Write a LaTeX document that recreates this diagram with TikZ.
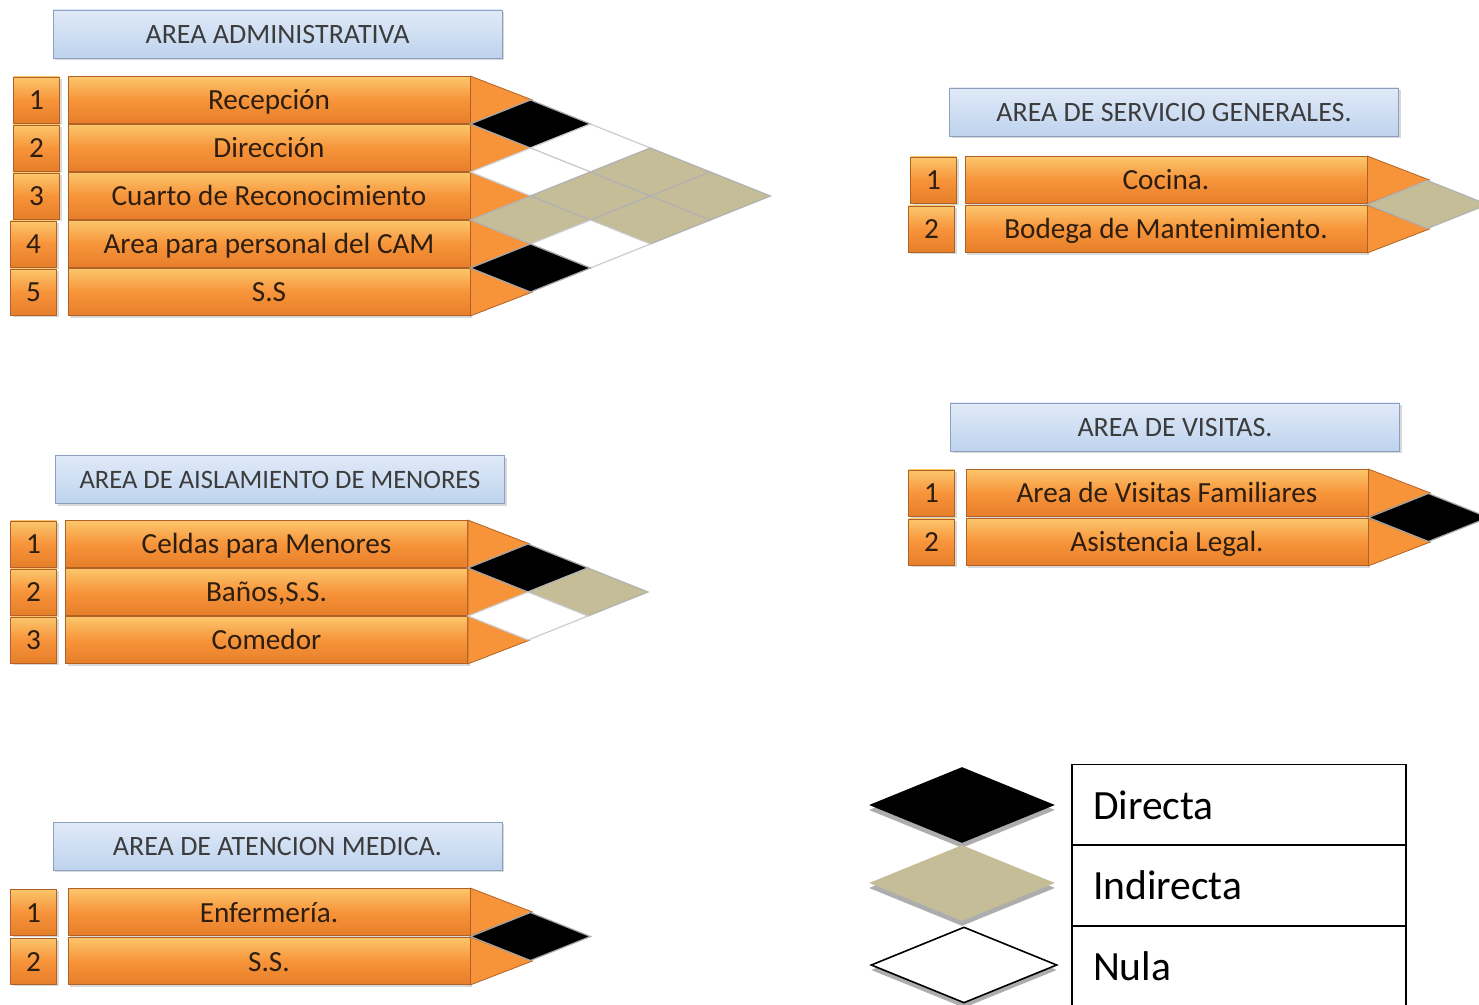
\documentclass[tikz,border=0pt]{standalone}
\usepackage{fontspec}
\setmainfont{Carlito}
\usepackage{xcolor}
\usepackage{tikz}
\usetikzlibrary{calc,shadows,shapes.geometric}

\definecolor{barorange}{RGB}{247,148,58}
\definecolor{barlight}{RGB}{252,198,108}
\definecolor{bardeep}{RGB}{230,126,42}
\definecolor{baredge}{RGB}{176,98,38}
\definecolor{headblue}{RGB}{190,211,238}
\definecolor{headlight}{RGB}{224,234,248}
\definecolor{headedge}{RGB}{140,160,190}
\definecolor{tanrel}{RGB}{196,189,151}
\definecolor{inktext}{RGB}{45,30,15}
\definecolor{headtext}{RGB}{60,60,60}

% diamond between row #2 and row #3 of group #1
\newcommand{\relcell}[4]{%
  \pgfmathsetmacro{\relx}{30*(#3-#2)}
  \draw[#4] ($(#1#2.east)!0.5!(#1#3.east)+(\relx pt-30pt,0)$) -- ++(30pt,12pt) -- ++(30pt,-12pt) -- ++(-30pt,-12pt) -- cycle;
}

\begin{document}
\begin{tikzpicture}[x=0.5pt, y=-0.5pt,
  bar/.style={draw=baredge, top color=barlight, bottom color=bardeep, middle color=barorange,
    minimum width=201pt, minimum height=23.5pt, inner sep=0pt, text=inktext,
    text height=11.5pt, text depth=1.5pt,
    font=\fontsize{14.6}{16}\selectfont, drop shadow={opacity=0.3, shadow xshift=1pt, shadow yshift=-1.2pt}},
  numbox/.style={bar, minimum width=23pt, minimum height=23pt},
  barpoint/.style={draw=baredge, fill=barorange},
  areahead/.style={draw=headedge, top color=headlight, bottom color=headblue,
    minimum width=224.5pt, minimum height=24pt, inner sep=0pt, text=headtext,
    text height=11pt, text depth=1.5pt,
    font=\fontsize{14}{16}\selectfont, drop shadow={opacity=0.3, shadow xshift=1pt, shadow yshift=-1.2pt}},
  dirrel/.style={fill=black, draw=gray!70, line width=0.6pt},
  indrel/.style={fill=tanrel, draw=gray!60, line width=0.6pt},
  nulrel/.style={fill=white, draw=gray!40, line width=0.6pt},
  legdia/.style={diamond, minimum width=93pt, minimum height=38pt, inner sep=0pt,
    drop shadow={shadow xshift=0pt, shadow yshift=-2.5pt, fill=gray!80, opacity=0.8}},
  legcell/.style={draw=black, line width=0.8pt, minimum height=40.5pt, text width=146pt,
    inner xsep=10.5pt, align=left, font=\fontsize{20.8}{24}\selectfont}]
  \useasboundingbox (0,0) rectangle (1479,1005);

  % Area administrativa
  \node[areahead] (admhead) at (277.5, 34) {AREA ADMINISTRATIVA};
  \node[bar] (adm1) at (269, 100) {Recepción};
  \node[bar] (adm2) at (269, 148) {Dirección};
  \node[bar] (adm3) at (269, 196) {Cuarto de Reconocimiento};
  \node[bar] (adm4) at (269, 244) {Area para personal del CAM};
  \node[bar] (adm5) at (269, 292) {S.S};
  \node[numbox] (admn1) at (36.5, 100) {1};
  \node[numbox] (admn2) at (36.5, 148) {2};
  \node[numbox] (admn3) at (36.5, 196) {3};
  \node[numbox] (admn4) at (33.5, 244) {4};
  \node[numbox] (admn5) at (33.5, 292) {5};
  \foreach \r in {1,...,5}
    \draw[barpoint] (adm\r.north east) -- ($(adm\r.east)+(31pt,0)$) -- (adm\r.south east) -- cycle;
  \relcell{adm}{1}{2}{dirrel} \relcell{adm}{1}{3}{nulrel} \relcell{adm}{1}{4}{indrel} \relcell{adm}{1}{5}{indrel}
  \relcell{adm}{2}{3}{nulrel} \relcell{adm}{2}{4}{indrel} \relcell{adm}{2}{5}{indrel}
  \relcell{adm}{3}{4}{indrel} \relcell{adm}{3}{5}{nulrel}
  \relcell{adm}{4}{5}{dirrel}

  % Area de aislamiento de menores
  \node[areahead, font=\fontsize{13.3}{16}\selectfont] (aslhead) at (280, 479.5) {AREA DE AISLAMIENTO DE MENORES};
  \node[bar] (asl1) at (266.5, 544) {Celdas para Menores};
  \node[bar] (asl2) at (266.5, 592) {Baños,S.S.};
  \node[bar] (asl3) at (266.5, 640) {Comedor};
  \node[numbox] (asln1) at (33.5, 544) {1};
  \node[numbox] (asln2) at (33.5, 592) {2};
  \node[numbox] (asln3) at (33.5, 640) {3};
  \foreach \r in {1,...,3}
    \draw[barpoint] (asl\r.north east) -- ($(asl\r.east)+(31pt,0)$) -- (asl\r.south east) -- cycle;
  \relcell{asl}{1}{2}{dirrel} \relcell{asl}{1}{3}{indrel} \relcell{asl}{2}{3}{nulrel}

  % Area de atencion medica
  \node[areahead] (medhead) at (277.5, 846) {AREA DE ATENCION MEDICA.};
  \node[bar] (med1) at (269, 912) {Enfermería.};
  \node[bar] (med2) at (269, 961) {S.S.};
  \node[numbox] (medn1) at (33.5, 912) {1};
  \node[numbox] (medn2) at (33.5, 961) {2};
  \foreach \r in {1,2}
    \draw[barpoint] (med\r.north east) -- ($(med\r.east)+(31pt,0)$) -- (med\r.south east) -- cycle;
  \relcell{med}{1}{2}{dirrel}

  % Area de servicio generales
  \node[areahead] (serhead) at (1174, 112) {AREA DE SERVICIO GENERALES.};
  \node[bar] (ser1) at (1166, 180) {Cocina.};
  \node[bar] (ser2) at (1166, 229) {Bodega de Mantenimiento.};
  \node[numbox] (sern1) at (933.5, 180) {1};
  \node[numbox] (sern2) at (931.5, 229) {2};
  \foreach \r in {1,2}
    \draw[barpoint] (ser\r.north east) -- ($(ser\r.east)+(31pt,0)$) -- (ser\r.south east) -- cycle;
  \relcell{ser}{1}{2}{indrel}

  % Area de visitas
  \node[areahead] (vishead) at (1175, 427) {AREA DE VISITAS.};
  \node[bar] (vis1) at (1167, 493) {Area de Visitas Familiares};
  \node[bar] (vis2) at (1167, 542) {Asistencia Legal.};
  \node[numbox] (visn1) at (931.5, 493) {1};
  \node[numbox] (visn2) at (931.5, 542) {2};
  \foreach \r in {1,2}
    \draw[barpoint] (vis\r.north east) -- ($(vis\r.east)+(31pt,0)$) -- (vis\r.south east) -- cycle;
  \relcell{vis}{1}{2}{dirrel}

  % Legend
  \node[legdia, fill=black] (legdir) at (962, 805) {};
  \node[legdia, fill=tanrel] (legind) at (962, 883) {};
  \node[legdia, fill=white, draw=black, line width=0.8pt] (legnul) at (964, 965) {};
  \node[legcell] (celldir) at (1239, 805) {Directa};
  \node[legcell] (cellind) at (1239, 885.5) {Indirecta};
  \node[legcell] (cellnul) at (1239, 966) {Nula};
\end{tikzpicture}
\end{document}
